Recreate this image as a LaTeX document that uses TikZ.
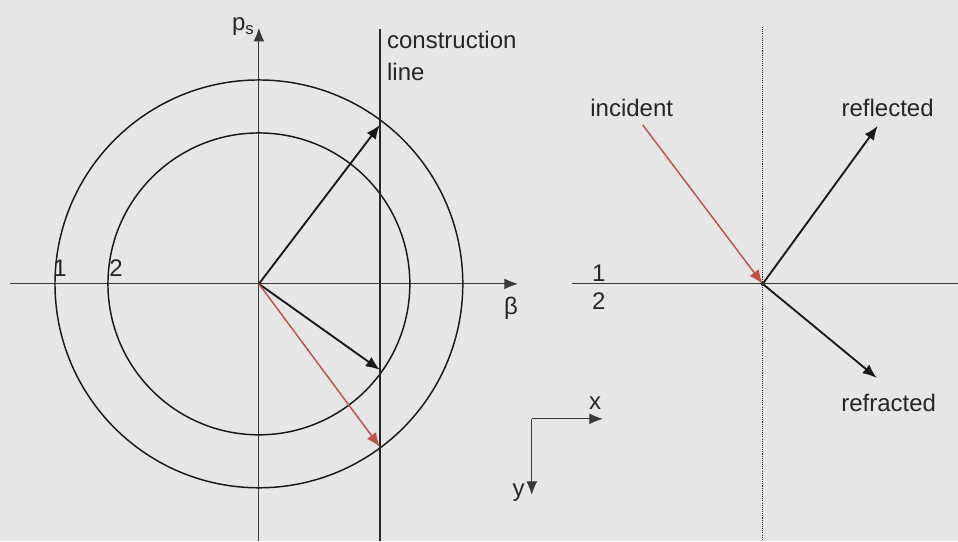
\documentclass[tikz,border=0pt]{standalone}
\usepackage{fontspec}
\setmainfont{Liberation Sans}
\usetikzlibrary{arrows.meta}
\definecolor{fondgris}{RGB}{230,230,230}
\definecolor{rougeinc}{RGB}{188,84,74}
\begin{document}
\begin{tikzpicture}[x=0.75pt, y=-0.75pt, every node/.style={inner sep=0pt, text=black!85, font=\fontsize{18}{24}\selectfont},
        axe/.style={gray!45!black, line width=0.6pt},
        axefl/.style={axe, -{Latex[length=10pt, width=8pt]}},
        cercle/.style={black!90, line width=1.1pt},
        rayon/.style={black!90, line width=1.4pt, -{Latex[length=10.5pt, width=8.5pt]}}]
        \fill[fondgris] (0,0) rectangle (958,541);

        % plan (beta, p_s)
        \coordinate (O) at (259,284);
        \coordinate (gauche) at (10,284);
        \coordinate (bas) at (259,541);
        \draw[axefl] (gauche) -- (518,284) node[name=beta, anchor=north, xshift=-5pt, yshift=-10pt] {β};
        \draw[axefl] (bas) -- (259,28) node[name=ps, anchor=south east, xshift=-3pt, yshift=-6pt] {p\textsubscript{s}};
        \draw[cercle] (O) circle[radius=204];
        \draw[cercle] (O) circle[radius=151];
        \node (un) at (60,268) {1};
        \node (deux) at (116,268) {2};

        % ligne de construction
        \coordinate (lchaut) at (380,29);
        \coordinate (lcbas) at (380,541);
        \draw[gray!30!black, line width=1.1pt] (lchaut) -- (lcbas);
        \node[anchor=north west, align=left] (constr) at (387,31) {construction\\line};
        \coordinate (hautext) at (380,125);
        \coordinate (basint) at (380,370);
        \coordinate (basext) at (380,447);
        \draw[rayon] (O) -- (hautext);
        \draw[rayon] (O) -- (basint);
        \draw[rayon, rougeinc, line width=1.1pt] (O) -- (basext);

        % interface 1/2
        \coordinate (P) at (763,284);
        \draw[gray!30!black, line width=0.8pt, dash pattern=on 0.8pt off 0.8pt] (763,27) -- (763,541);
        \draw[axe] (572,284) -- (958,284);
        \node (un2) at (599,273) {1};
        \node (deux2) at (599,301) {2};
        \node[anchor=base] (inc) at (632,117) {incident};
        \node[anchor=base] (refl) at (888,117) {reflected};
        \node[anchor=base] (refr) at (889,412) {refracted};
        \coordinate (depart) at (643,125);
        \draw[rayon, rougeinc, line width=1.1pt] (depart) -- (P);
        \draw[rayon] (P) -- (878,126);
        \draw[rayon] (P) -- (877,378);
        \fill[black!80] (P) circle (1.5pt);

        % repere x, y
        \coordinate (coin) at (532,419);
        \draw[axefl] (coin) -- (603,419) node[name=xl, anchor=south east, xshift=-1pt, yshift=7pt] {x};
        \draw[axefl] (coin) -- (532,495) node[name=yl, anchor=base east, xshift=-5pt, yshift=-1pt] {y};
\end{tikzpicture}
\end{document}
